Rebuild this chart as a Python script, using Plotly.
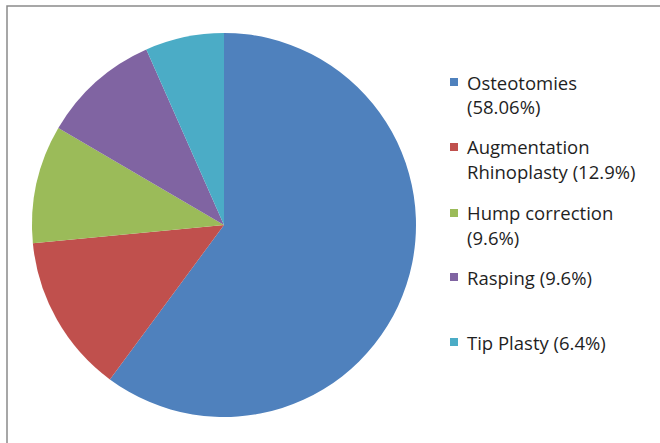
import plotly.graph_objects as go

# Rhinoplasty procedure mix
procedures = ["Osteotomies", "Augmentation Rhinoplasty", "Hump correction", "Rasping", "Tip Plasty"]
shares = [58.06, 12.9, 9.6, 9.6, 6.4]
colors = ["#4F81BD", "#C0504D", "#9BBB59", "#8064A2", "#4BACC6"]

# Legend text, wrapped the way it is laid out beside the pie
legend_lines = [
    ["Osteotomies", "(58.06%)"],
    ["Augmentation", "Rhinoplasty (12.9%)"],
    ["Hump correction", "(9.6%)"],
    ["Rasping (9.6%)"],
    ["Tip Plasty (6.4%)"],
]

W, H = 660, 443


def px(x):
    return x / W


def py(y):
    return 1 - y / H


fig = go.Figure(
    go.Pie(
        labels=procedures,
        values=shares,
        sort=False,
        direction="clockwise",
        rotation=0,
        marker=dict(colors=colors, line=dict(width=0)),
        textinfo="none",
        hoverinfo="label+percent",
        showlegend=False,
        domain=dict(x=[px(32), px(416)], y=[py(417), py(33)]),
    )
)

font = dict(family="Open Sans, Liberation Sans, sans-serif", size=18.5, color="#1f1f1f")
item_tops = [82, 147, 213, 277, 342]
line_gap = 24
shapes = [
    # chart-area frame
    dict(type="rect", xref="paper", yref="paper",
         x0=px(7), x1=px(700), y0=py(6), y1=py(500),
         line=dict(color="#8a8a8a", width=1.5), fillcolor="rgba(0,0,0,0)"),
]
annotations = []
for i, lines in enumerate(legend_lines):
    yc = item_tops[i]
    shapes.append(dict(type="rect", xref="paper", yref="paper",
                       x0=px(450), x1=px(458), y0=py(yc - 4), y1=py(yc + 4),
                       fillcolor=colors[i], line=dict(width=0)))
    for j, t in enumerate(lines):
        annotations.append(dict(text=t, xref="paper", yref="paper",
                                x=px(465), y=py(yc + j * line_gap),
                                xanchor="left", yanchor="middle",
                                showarrow=False, font=font))

fig.update_layout(
    width=W, height=H,
    margin=dict(l=0, r=0, t=0, b=0),
    paper_bgcolor="white",
    plot_bgcolor="white",
    shapes=shapes,
    annotations=annotations,
)

fig.write_html("out.html")
